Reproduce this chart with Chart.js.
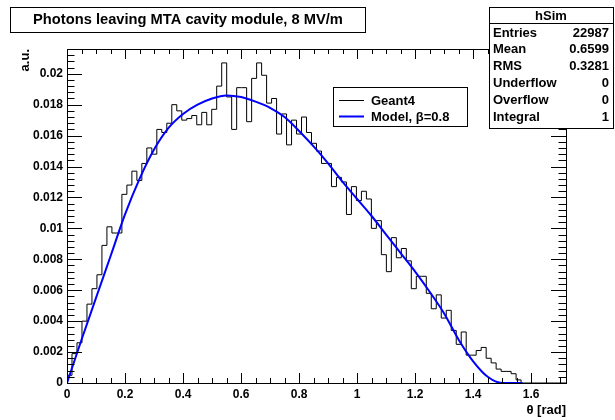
<!DOCTYPE html>
<html>
<head>
<meta charset="utf-8">
<title>hSim</title>
<script src="https://cdn.jsdelivr.net/npm/chart.js@4.4.0/dist/chart.umd.min.js"></script>
<style>
body { margin: 0; background: #fff; }
#wrap { width: 615px; height: 420px; position: relative; }
</style>
</head>
<body>
<div id="wrap"><canvas id="histChart"></canvas></div>
<script>
// hSim: 100 bins between 0 and 1.72 rad
var xMin = 0;
var xMax = 1.72;
var nBins = 100;
var yMax = 0.0216;

var geantValues = [
    0.0005, 0.0019, 0.0026, 0.0040, 0.0051, 0.0061, 0.0070, 0.0089, 0.0101, 0.0097,
    0.0097, 0.0122, 0.0128, 0.0137, 0.0131, 0.0142, 0.0152, 0.0148, 0.0164, 0.0162,
    0.0168, 0.0180, 0.0176, 0.0170, 0.0171, 0.0173, 0.0167, 0.0175, 0.0167, 0.0177,
    0.0192, 0.0207, 0.0185, 0.0164, 0.0191, 0.0191, 0.0169, 0.0197, 0.0207, 0.0199,
    0.0181, 0.0184, 0.0161, 0.0174, 0.0154, 0.0170, 0.0161, 0.0172, 0.0162, 0.0155,
    0.0150, 0.0142, 0.0142, 0.0127, 0.0133, 0.0130, 0.0109, 0.0127, 0.0118, 0.0124,
    0.0119, 0.0100, 0.0105, 0.0083, 0.0072, 0.0094, 0.0081, 0.0087, 0.0079, 0.0061,
    0.0069, 0.0069, 0.0058, 0.0048, 0.0057, 0.0042, 0.0047, 0.0034, 0.0025, 0.0033,
    0.0018, 0.0018, 0.0021, 0.0023, 0.0016, 0.0013, 0.0009, 0.00075, 0.00075, 0.0006,
    0.0002, 0, 0, 0, 0, 0, 0, 0, 0, 0
];

var modelTheta = [0, 0.05, 0.10, 0.15, 0.20, 0.25, 0.30, 0.35, 0.40, 0.45, 0.50,
    0.55, 0.60, 0.65, 0.70, 0.75, 0.80, 0.85, 0.90, 0.95, 1.00, 1.05, 1.10,
    1.15, 1.20, 1.25, 1.30, 1.35, 1.40, 1.45, 1.50, 1.55, 1.57];
var modelValues = [0, 0.0028, 0.0055, 0.0082, 0.0109, 0.0132, 0.0151, 0.0165, 0.0174, 0.0180, 0.0184,
    0.0186, 0.0185, 0.0182, 0.0178, 0.0172, 0.0163, 0.0153, 0.0142, 0.0130, 0.0119, 0.0108, 0.0096,
    0.0084, 0.0072, 0.0059, 0.0045, 0.0028, 0.0014, 0.0004, 0, 0, 0];

var xMajorStep = 0.2, xMinorDiv = 4;
var yMajorStep = 0.002, yMinorDiv = 5;

var titleText = 'Photons leaving MTA cavity module, 8 MV/m';
var legendLabels = ['Geant4', 'Model, \u03b2=0.8'];
var statsName = 'hSim';
var statsLabels = ['Entries', 'Mean', 'RMS', 'Underflow', 'Overflow', 'Integral'];
var statsValues = ['22987', '0.6599', '0.3281', '0', '0', '1'];

var FONT = '"Liberation Sans", Arial, Helvetica, sans-serif';

function histPoints() {
    var w = (xMax - xMin) / nBins;
    var pts = [{x: xMin, y: 0}];
    for (var i = 0; i < nBins; i++) {
        pts.push({x: xMin + i * w, y: geantValues[i]});
    }
    pts.push({x: xMax, y: geantValues[nBins - 1]});
    return pts;
}

function modelPoints() {
    return modelTheta.map(function(t, i) { return {x: t, y: modelValues[i]}; });
}

function box(ctx, x, y, w, h) {
    ctx.fillStyle = '#fff';
    ctx.fillRect(x, y, w, h);
    ctx.strokeRect(x + 0.5, y + 0.5, w, h);
}

// frame with inward ticks on all sides, like a ROOT pad
var rootFrame = {
    id: 'rootFrame',
    afterDraw: function(chart) {
        var ctx = chart.ctx;
        var a = chart.chartArea;
        var xs = chart.scales.x, ys = chart.scales.y;
        ctx.save();
        ctx.strokeStyle = '#000';
        ctx.lineWidth = 1;
        ctx.strokeRect(a.left + 0.5, a.top + 0.5, a.right - a.left, a.bottom - a.top);

        ctx.beginPath();
        var i, v, p, len;
        var xMinor = xMajorStep / xMinorDiv;
        for (i = 0; i * xMinor <= xMax + 1e-9; i++) {
            v = i * xMinor;
            p = Math.round(xs.getPixelForValue(v)) + 0.5;
            len = (i % xMinorDiv == 0) ? 10 : 5;
            ctx.moveTo(p, a.bottom); ctx.lineTo(p, a.bottom - len);
            ctx.moveTo(p, a.top); ctx.lineTo(p, a.top + len);
        }
        var yMinor = yMajorStep / yMinorDiv;
        for (i = 0; i * yMinor <= yMax + 1e-12; i++) {
            v = i * yMinor;
            p = Math.round(ys.getPixelForValue(v)) + 0.5;
            len = (i % yMinorDiv == 0) ? 15 : 7.5;
            ctx.moveTo(a.left, p); ctx.lineTo(a.left + len, p);
            ctx.moveTo(a.right, p); ctx.lineTo(a.right - len, p);
        }
        ctx.stroke();

        // legend
        var ds = chart.data.datasets;
        box(ctx, 333, 87, 134, 39);
        ctx.font = 'bold 13px ' + FONT;
        ctx.textBaseline = 'middle';
        ctx.textAlign = 'left';
        for (i = 0; i < legendLabels.length; i++) {
            var ly = 100 + i * 16;
            ctx.beginPath();
            ctx.strokeStyle = ds[i].borderColor;
            ctx.lineWidth = ds[i].borderWidth;
            ctx.moveTo(339, ly + 0.5); ctx.lineTo(364, ly + 0.5);
            ctx.stroke();
            ctx.fillStyle = '#000';
            ctx.fillText(legendLabels[i], 371, ly + 1);
        }

        // stats box
        ctx.strokeStyle = '#000';
        ctx.lineWidth = 1;
        box(ctx, 489, 7, 124, 121);
        ctx.beginPath();
        ctx.moveTo(489, 23.5); ctx.lineTo(613, 23.5);
        ctx.stroke();
        ctx.fillStyle = '#000';
        ctx.textAlign = 'center';
        ctx.fillText(statsName, 551, 16);
        for (i = 0; i < statsLabels.length; i++) {
            var sy = 33 + i * 16.8;
            ctx.textAlign = 'left';
            ctx.fillText(statsLabels[i], 493, sy);
            ctx.textAlign = 'right';
            ctx.fillText(statsValues[i], 609, sy);
        }

        // title box
        box(ctx, 10, 7, 355, 25);
        ctx.fillStyle = '#000';
        ctx.textAlign = 'center';
        ctx.font = 'bold 14.7px ' + FONT;
        ctx.fillText(titleText, 188, 20);
        ctx.restore();
    }
};

Chart.defaults.color = '#000';
Chart.defaults.font.family = FONT;

var ctx = document.getElementById('histChart').getContext('2d');
var chart = new Chart(ctx, {
    type: 'line',
    data: {
        datasets: [
            {
                label: legendLabels[0],
                data: histPoints(),
                stepped: true,
                borderColor: '#000',
                borderWidth: 1,
                pointRadius: 0,
                fill: false,
                order: 2
            },
            {
                label: legendLabels[1],
                data: modelPoints(),
                borderColor: '#0000ff',
                borderWidth: 2,
                pointRadius: 0,
                cubicInterpolationMode: 'monotone',
                fill: false,
                order: 1
            }
        ]
    },
    options: {
        responsive: true,
        maintainAspectRatio: false,
        animation: false,
        layout: { padding: { top: 49, right: 49, bottom: 0, left: 0 } },
        plugins: {
            legend: { display: false },
            tooltip: { enabled: false }
        },
        scales: {
            x: {
                type: 'linear',
                min: xMin,
                max: xMax,
                grid: { display: false, drawTicks: false },
                border: { display: false },
                ticks: {
                    stepSize: xMajorStep,
                    includeBounds: false,
                    autoSkip: false,
                    maxRotation: 0,
                    padding: 4,
                    font: { size: 12, weight: 'bold' },
                    callback: function(v) { return String(+v.toFixed(1)); }
                },
                title: {
                    display: true,
                    text: '\u03b8 [rad]',
                    align: 'end',
                    font: { size: 13, weight: 'bold' },
                    padding: { top: 0, bottom: 2 }
                },
                afterFit: function(s) { s.height = 37; }
            },
            y: {
                min: 0,
                max: yMax,
                grid: { display: false, drawTicks: false },
                border: { display: false },
                ticks: {
                    stepSize: yMajorStep,
                    includeBounds: false,
                    padding: 4,
                    font: { size: 12, weight: 'bold' },
                    callback: function(v) { return String(+v.toFixed(3)); }
                },
                title: {
                    display: true,
                    text: 'a.u.',
                    align: 'end',
                    font: { size: 13, weight: 'bold' },
                    padding: { top: 18, bottom: 0 }
                },
                afterFit: function(s) { s.width = 67; }
            }
        }
    },
    plugins: [rootFrame]
});
</script>
</body>
</html>
